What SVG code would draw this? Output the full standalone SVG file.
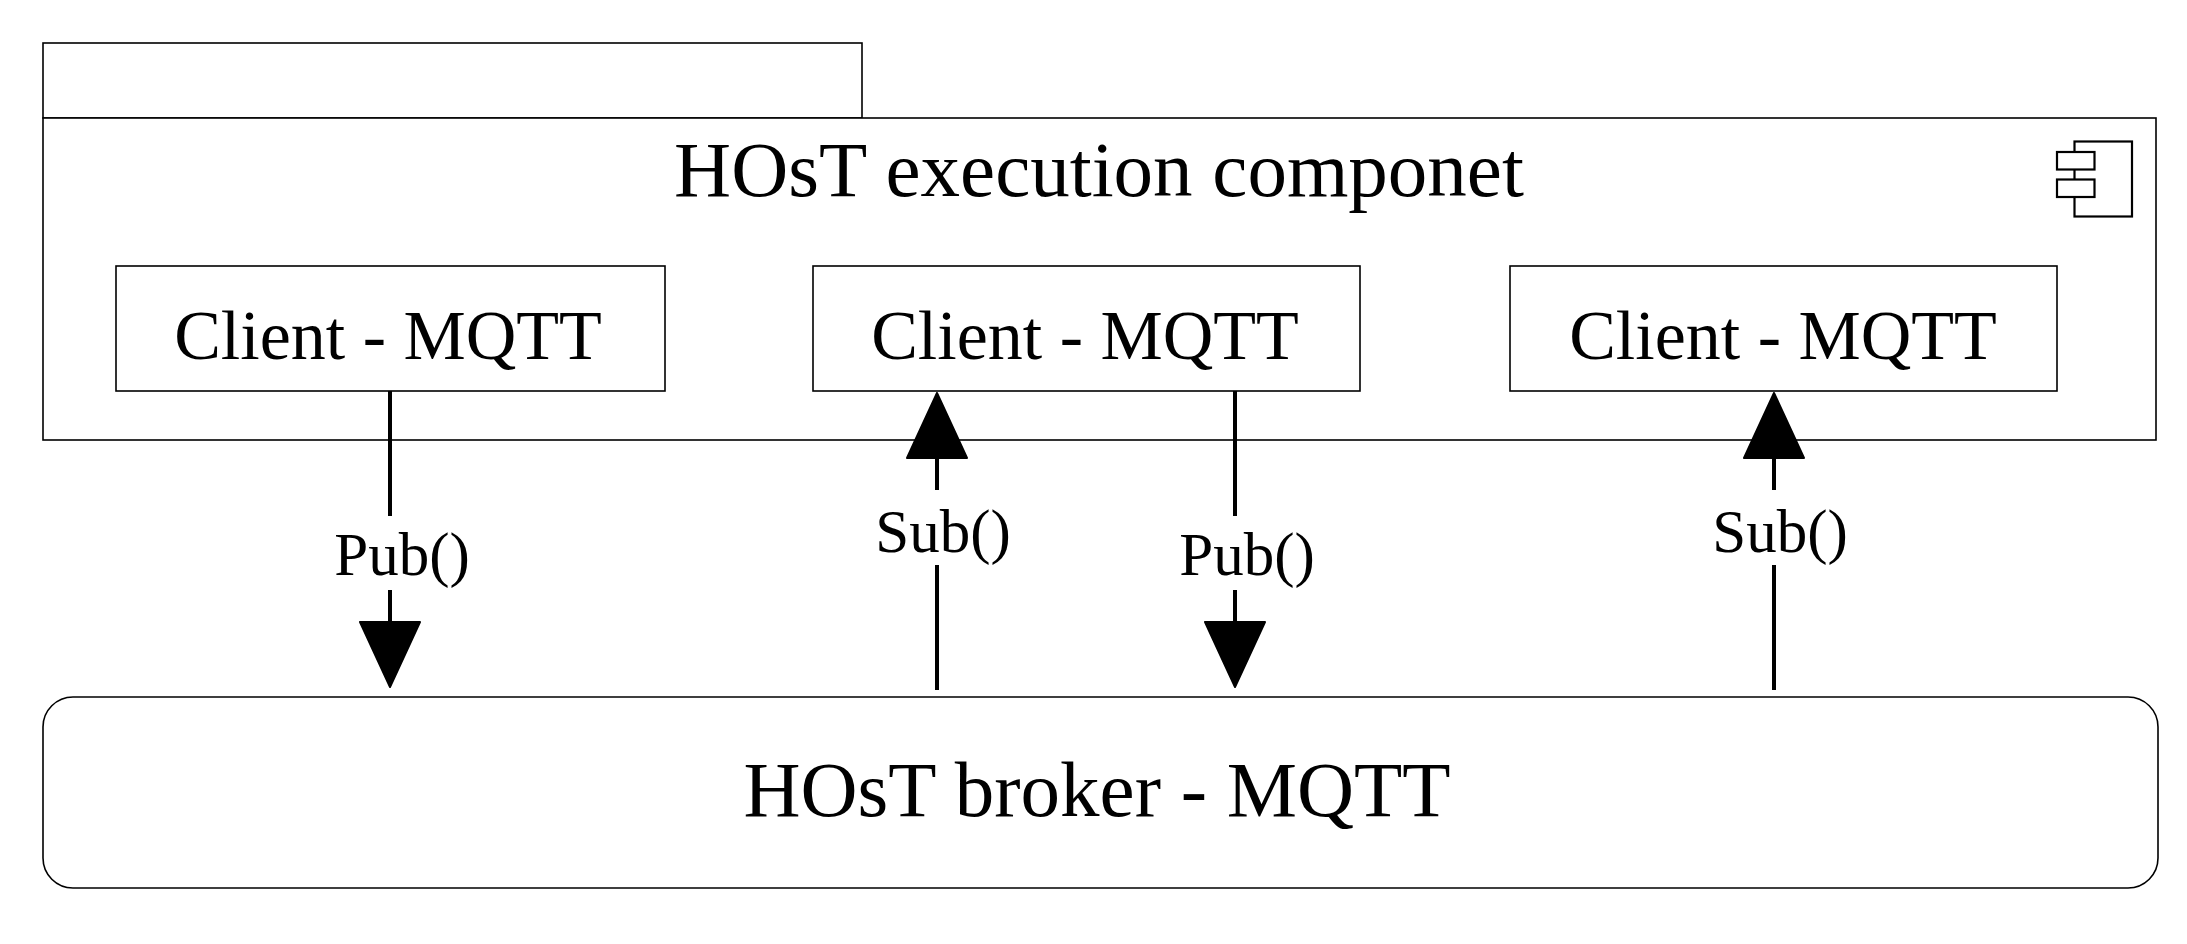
<svg xmlns="http://www.w3.org/2000/svg" width="2187" height="944" viewBox="0 0 2187 944">
<style>
.b{fill:#fff;stroke:#000;stroke-width:1.6}
.i{fill:#fff;stroke:#000;stroke-width:2.2}
.c{stroke:#000;stroke-width:4;fill:none}
.h{fill:#000;stroke:#000;stroke-width:2;stroke-linejoin:round}
text{font-family:"Liberation Serif","Times New Roman",serif;fill:#000;text-anchor:middle}
.l{font-size:79px}
.m{font-size:70px}
.s{font-size:61px}
</style>
<rect width="2187" height="944" fill="#fff"/>
<g id="component">
<rect class="b" x="43" y="43" width="819" height="75"/>
<rect class="b" x="43" y="118" width="2113" height="322"/>
<text class="l" x="1099" y="196">HOsT execution componet</text>
<rect class="i" x="2074.5" y="141.5" width="57.5" height="75"/>
<rect class="i" x="2057" y="152" width="37.5" height="17.5"/>
<rect class="i" x="2057" y="179.500" width="37.500" height="17.500"/>
</g>
<g id="client1"><rect class="b" x="116" y="266" width="549" height="125"/><text class="m" x="388" y="359">Client - MQTT</text></g>
<g id="client2"><rect class="b" x="813" y="266" width="547" height="125"/><text class="m" x="1085" y="359">Client - MQTT</text></g>
<g id="client3"><rect class="b" x="1510" y="266" width="547" height="125"/><text class="m" x="1783" y="359">Client - MQTT</text></g>
<g id="broker"><rect class="b" x="43" y="697" width="2115" height="191" rx="30"/><text class="l" x="1097" y="816">HOsT broker - MQTT</text></g>
<g id="connectors">
<path class="c" d="M390 391V516M390 590V625"/><path class="h" d="M360 622H420L390 687Z"/>
<path class="c" d="M937 690V565M937 490V455"/><path class="h" d="M907 458H967L937 393Z"/>
<path class="c" d="M1235 391V516M1235 590V625"/><path class="h" d="M1205 622H1265L1235 687Z"/>
<path class="c" d="M1774 690V565M1774 490V455"/><path class="h" d="M1744 458H1804L1774 393Z"/>
<text class="s" x="402" y="575">Pub()</text>
<text class="s" x="943" y="552">Sub()</text>
<text class="s" x="1247" y="575">Pub()</text>
<text class="s" x="1780" y="552">Sub()</text>
</g>
</svg>
